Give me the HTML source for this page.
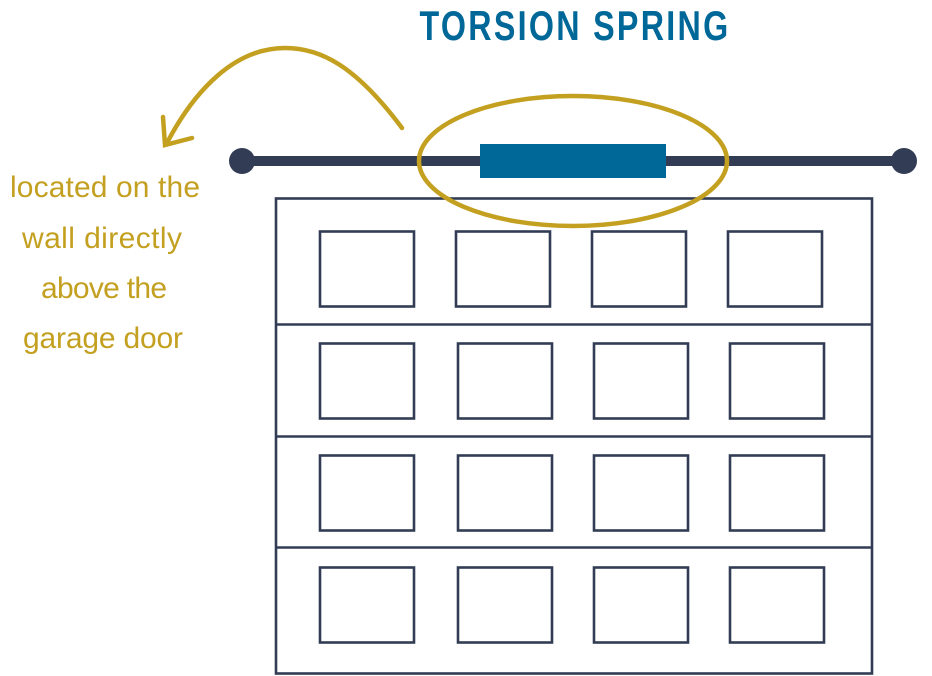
<!DOCTYPE html>
<html><head><style>html,body{margin:0;padding:0;background:#fff;width:932px;height:676px;overflow:hidden}</style></head>
<body>
<svg width="932" height="676" viewBox="0 0 932 676" xmlns="http://www.w3.org/2000/svg">
<text x="575" y="40" text-anchor="middle" font-family="'Liberation Sans Narrow','Liberation Sans',sans-serif" font-weight="bold" font-size="42" letter-spacing="3" fill="#006898" textLength="311" lengthAdjust="spacingAndGlyphs">TORSION SPRING</text>
<g fill="none" stroke="#323c54" stroke-width="2.6">
<rect x="276" y="198.5" width="596" height="475"/>
<line x1="276" y1="324.5" x2="872" y2="324.5"/>
<line x1="276" y1="436.5" x2="872" y2="436.5"/>
<line x1="276" y1="547.5" x2="872" y2="547.5"/>
<rect x="320" y="231.5" width="94" height="75"/>
<rect x="456" y="231.5" width="94" height="75"/>
<rect x="592" y="231.5" width="94" height="75"/>
<rect x="728" y="231.5" width="94" height="75"/>
<rect x="320" y="343.5" width="94" height="75"/>
<rect x="458" y="343.5" width="94" height="75"/>
<rect x="594" y="343.5" width="94" height="75"/>
<rect x="730" y="343.5" width="94" height="75"/>
<rect x="320" y="455.5" width="94" height="75"/>
<rect x="458" y="455.5" width="94" height="75"/>
<rect x="594" y="455.5" width="94" height="75"/>
<rect x="730" y="455.5" width="94" height="75"/>
<rect x="320" y="567.5" width="94" height="75"/>
<rect x="458" y="567.5" width="94" height="75"/>
<rect x="594" y="567.5" width="94" height="75"/>
<rect x="730" y="567.5" width="94" height="75"/>
</g>
<line x1="242" y1="161" x2="904" y2="161" stroke="#323c54" stroke-width="10"/>
<circle cx="242" cy="161" r="13" fill="#323c54"/>
<circle cx="904" cy="161" r="13" fill="#323c54"/>
<rect x="480" y="144" width="186" height="34" fill="#006898"/>
<g fill="none" stroke="#c4a020" stroke-width="4.5" stroke-linecap="round">
<ellipse cx="573" cy="161" rx="154" ry="65"/>
<path d="M402 128 C355 65 320 48 285 48 C235 48 195 90 168 141"/>
<path d="M163 117 L165 145 L192 138"/>
</g>
<g font-family="'Liberation Sans',sans-serif" font-size="30" fill="#c4a020" text-anchor="middle" lengthAdjust="spacingAndGlyphs">
<text x="105" y="197" textLength="190">located on the</text>
<text x="102" y="248" textLength="160">wall directly</text>
<text x="104" y="298" textLength="126">above the</text>
<text x="103" y="348" textLength="160">garage door</text>
</g>
</svg>
</body></html>
